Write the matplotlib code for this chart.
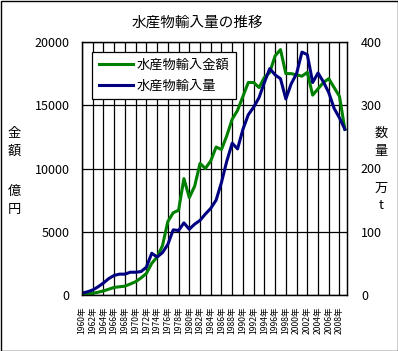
import numpy as np
import matplotlib
matplotlib.use("Agg")
import matplotlib.pyplot as plt
from matplotlib.patches import Rectangle

plt.rcParams['font.family'] = ['Noto Sans CJK JP', 'DejaVu Sans']

years = list(range(1960, 2010))

# 水産物輸入金額 (億円)
amount = [30, 80, 130, 220, 320, 460, 600, 650, 700, 870,
          1050, 1350, 1700, 2500, 3000, 3900, 5800, 6500, 6700, 9200,
          7700, 8600, 10400, 10000, 10600, 11700, 11500, 12600, 13900, 14600,
          15700, 16800, 16800, 16400, 17200, 17600, 18900, 19400, 17500, 17500,
          17400, 17300, 17600, 15800, 16300, 16800, 17100, 16400, 15700, 13100]

# 水産物輸入量 (万t)
volume = [3, 5, 8, 13, 19, 26, 31, 33, 33, 36,
          36, 37, 44, 66, 60, 67, 80, 103, 102, 114,
          104, 112, 118, 128, 137, 150, 178, 212, 240, 231,
          262, 285, 297, 312, 336, 358, 348, 342, 310, 334,
          350, 384, 380, 336, 351, 337, 320, 295, 280, 262]

tick_years = list(range(1960, 2010, 2))
tick_labels = [f"{y}年" for y in tick_years]

fig = plt.figure(figsize=(3.98, 3.51), dpi=100)
fig.patch.set_facecolor('white')
ax = fig.add_axes([82 / 398, 1 - 295 / 351, 265 / 398, 253 / 351])
ax2 = ax.twinx()

l1, = ax.plot(years, amount, color='#008000', lw=2.2, label='水産物輸入金額')
l2, = ax2.plot(years, volume, color='#000080', lw=2.2, label='水産物輸入量')

ax.set_xlim(1960, 2009.4)
ax.set_ylim(0, 20000)
ax2.set_ylim(0, 400)
ax.set_yticks(range(0, 20001, 5000))
ax2.set_yticks(range(0, 401, 100))
ax.set_xticks(tick_years)
ax.set_xticklabels(tick_labels, rotation=90, fontsize=6.2, va='top')

ax.grid(True, color='black', lw=0.9)
ax.set_axisbelow(True)
ax.tick_params(axis='both', length=0, labelsize=9)
ax.tick_params(axis='x', pad=8, labelsize=6.2)
ax.tick_params(axis='y', pad=9)
ax2.tick_params(axis='y', length=0, labelsize=9, pad=10)
for a in (ax, ax2):
    for s in a.spines.values():
        s.set_color('black')
        s.set_linewidth(0.9)

leg = ax2.legend(handles=[l1, l2], loc='upper left', bbox_to_anchor=(0.038, 0.96),
                 borderaxespad=0, fancybox=False, framealpha=1, edgecolor='black',
                 fontsize=9.5, handlelength=2.6, handletextpad=0.3,
                 borderpad=0.5, labelspacing=0.6)
leg.get_frame().set_linewidth(0.9)

fig.text(197 / 398, 1 - 23 / 351, '水産物輸入量の推移', ha='center', va='center', fontsize=10.5)

for ch, y in [('金', 133), ('額', 151), ('億', 191), ('円', 209)]:
    fig.text(14 / 398, 1 - y / 351, ch, ha='center', va='center', fontsize=9.5)
for ch, y in [('数', 133), ('量', 151), ('万', 188), ('t', 206)]:
    fig.text(381 / 398, 1 - y / 351, ch, ha='center', va='center', fontsize=9.5)

fig.patches.append(Rectangle((0.5 / 398, 0.5 / 351), 397 / 398, 350 / 351,
                             transform=fig.transFigure, fill=False,
                             edgecolor='black', lw=1))

fig.savefig('out.png', dpi=100)
